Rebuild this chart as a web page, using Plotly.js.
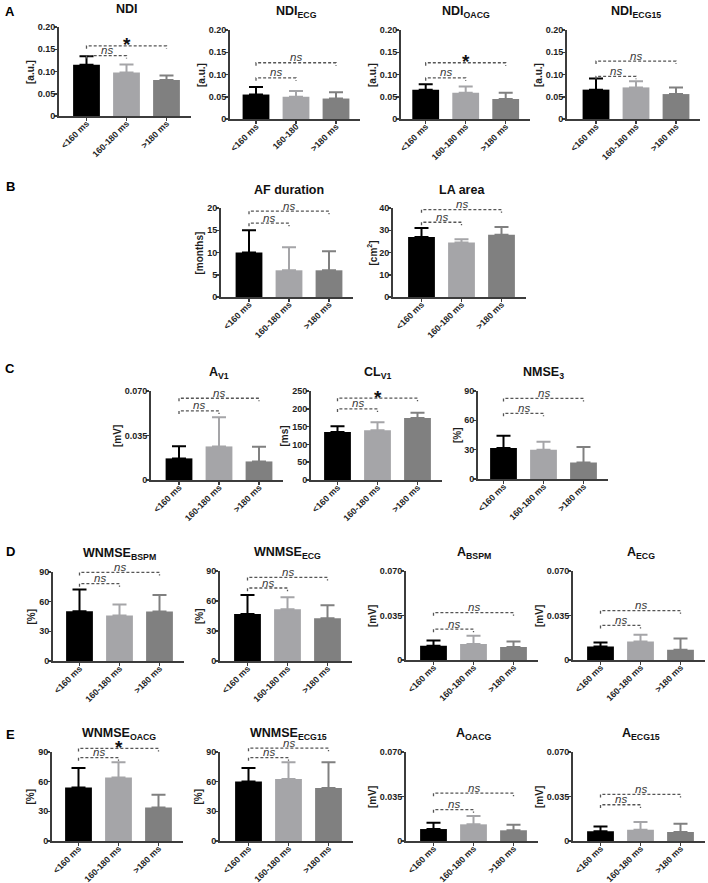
<!DOCTYPE html>
<html><head><meta charset="utf-8">
<script src="https://cdn.plot.ly/plotly-3.0.1.min.js"></script>
<style>html,body{margin:0;padding:0;background:#fff;} #chart{width:708px;height:883px;}</style>
</head><body><div id="chart"></div>
<script>
// ---------- DATA ----------
const groups = ['&lt;160 ms', '160-180 ms', '&gt;180 ms'];
const groupsEcg = ['&lt;160 ms', '160-180', '&gt;180 ms'];

const ticksNdi = [0, 0.05, 0.10, 0.15, 0.20];
const tickTextNdi = ['0', '0.05', '0.10', '0.15', '0.20'];
const ticksAf = [0, 5, 10, 15, 20];
const tickTextAf = ['0', '5', '10', '15', '20'];
const ticksLa = [0, 10, 20, 30, 40];
const tickTextLa = ['0', '10', '20', '30', '40'];
const ticksAmp = [0, 0.035, 0.070];
const tickTextAmp = ['0', '0.035', '0.070'];
const ticksCl = [0, 50, 100, 150, 200, 250];
const tickTextCl = ['0', '50', '100', '150', '200', '250'];
const ticksPct = [0, 30, 60, 90];
const tickTextPct = ['0', '30', '60', '90'];

const ndiMean = [0.115, 0.098, 0.081];        const ndiErr = [0.019, 0.018, 0.010];
const ndiEcgMean = [0.055, 0.050, 0.046];     const ndiEcgErr = [0.017, 0.013, 0.014];
const ndiOacgMean = [0.066, 0.059, 0.045];    const ndiOacgErr = [0.012, 0.014, 0.014];
const ndiEcg15Mean = [0.066, 0.071, 0.056];   const ndiEcg15Err = [0.025, 0.014, 0.015];
const afMean = [10, 6, 6];                    const afErr = [5, 5.2, 4.3];
const laMean = [27, 24.5, 28];                const laErr = [4, 1.5, 3.5];
const av1Mean = [0.017, 0.0264, 0.0146];      const av1Err = [0.0096, 0.023, 0.0115];
const clv1Mean = [135, 140, 174];             const clv1Err = [16, 22, 15];
const nmseMean = [31.6, 29.9, 17];            const nmseErr = [12.6, 8.1, 15.6];
const wBspmMean = [50.4, 46, 50];             const wBspmErr = [21.8, 11.1, 16.8];
const wEcgMean = [47, 51.7, 42.7];            const wEcgErr = [19, 12, 13];
const aBspmMean = [0.0112, 0.0125, 0.0102];   const aBspmErr = [0.0042, 0.0066, 0.0044];
const aEcgMean = [0.0107, 0.0146, 0.0081];    const aEcgErr = [0.0031, 0.0053, 0.0089];
const wOacgMean = [54, 64.1, 33.9];           const wOacgErr = [19.9, 15.5, 12.8];
const wEcg15Mean = [60.1, 62.8, 53.7];        const wEcg15Err = [13.8, 16.8, 25.9];
const aOacgMean = [0.0094, 0.0131, 0.0084];   const aOacgErr = [0.0050, 0.0065, 0.0044];
const aEcg15Mean = [0.0076, 0.0089, 0.0071];  const aEcg15Err = [0.0039, 0.0060, 0.0065];

// significance brackets: [inner (<160 vs 160-180), outer (<160 vs >180)]
const ndiBr = [0.151, 0.175];      const ndiSig = ['ns', '*'];
const ndiEcgBr = [0.100, 0.137];   const ndiEcgSig = ['ns', 'ns'];
const ndiOacgBr = [0.100, 0.137];  const ndiOacgSig = ['ns', '*'];
const ndiEcg15Br = [0.104, 0.141]; const ndiEcg15Sig = ['ns', 'ns'];
const afBr = [16.6, 19.3];         const afSig = ['ns', 'ns'];
const laBr = [33.6, 39.3];         const laSig = ['ns', 'ns'];
const av1Br = [0.0543, 0.0643];    const av1Sig = ['ns', 'ns'];
const clv1Br = [200, 230];         const clv1Sig = ['ns', '*'];
const nmseBr = [67.2, 82.5];       const nmseSig = ['ns', 'ns'];
const wBspmBr = [78.2, 89.7];      const wBspmSig = ['ns', 'ns'];
const wEcgBr = [73, 83.7];         const wEcgSig = ['ns', 'ns'];
const aBspmBr = [0.0243, 0.0373];  const aBspmSig = ['ns', 'ns'];
const aEcgBr = [0.0272, 0.0389];   const aEcgSig = ['ns', 'ns'];
const wOacgBr = [84.3, 93.7];      const wOacgSig = ['ns', '*'];
const wEcg15Br = [84.3, 94];       const wEcg15Sig = ['ns', 'ns'];
const aOacgBr = [0.0246, 0.0376];  const aOacgSig = ['ns', 'ns'];
const aEcg15Br = [0.0285, 0.0366]; const aEcg15Sig = ['ns', 'ns'];

const panelTitles = ['NDI', 'NDI<sub>ECG</sub>', 'NDI<sub>OACG</sub>', 'NDI<sub>ECG15</sub>',
  'AF duration', 'LA area', 'A<sub>V1</sub>', 'CL<sub>V1</sub>', 'NMSE<sub>3</sub>',
  'WNMSE<sub>BSPM</sub>', 'WNMSE<sub>ECG</sub>', 'A<sub>BSPM</sub>', 'A<sub>ECG</sub>',
  'WNMSE<sub>OACG</sub>', 'WNMSE<sub>ECG15</sub>', 'A<sub>OACG</sub>', 'A<sub>ECG15</sub>'];
const units = ['[a.u.]', '[a.u.]', '[a.u.]', '[a.u.]', '[months]', '[cm<sup>2</sup>]', '[mV]', '[ms]', '[%]',
  '[%]', '[%]', '[mV]', '[mV]', '[%]', '[%]', '[mV]', '[mV]'];
const panelLetters = ['A', 'B', 'C', 'D', 'E'];

// ---------- PANEL TABLE (built from the arrays above) ----------
const panels = [
  {mean: ndiMean, err: ndiErr, br: ndiBr, sig: ndiSig, cats: groups, ticks: ticksNdi, tt: tickTextNdi},
  {mean: ndiEcgMean, err: ndiEcgErr, br: ndiEcgBr, sig: ndiEcgSig, cats: groupsEcg, ticks: ticksNdi, tt: tickTextNdi},
  {mean: ndiOacgMean, err: ndiOacgErr, br: ndiOacgBr, sig: ndiOacgSig, cats: groups, ticks: ticksNdi, tt: tickTextNdi},
  {mean: ndiEcg15Mean, err: ndiEcg15Err, br: ndiEcg15Br, sig: ndiEcg15Sig, cats: groups, ticks: ticksNdi, tt: tickTextNdi},
  {mean: afMean, err: afErr, br: afBr, sig: afSig, cats: groups, ticks: ticksAf, tt: tickTextAf},
  {mean: laMean, err: laErr, br: laBr, sig: laSig, cats: groups, ticks: ticksLa, tt: tickTextLa},
  {mean: av1Mean, err: av1Err, br: av1Br, sig: av1Sig, cats: groups, ticks: ticksAmp, tt: tickTextAmp},
  {mean: clv1Mean, err: clv1Err, br: clv1Br, sig: clv1Sig, cats: groups, ticks: ticksCl, tt: tickTextCl},
  {mean: nmseMean, err: nmseErr, br: nmseBr, sig: nmseSig, cats: groups, ticks: ticksPct, tt: tickTextPct},
  {mean: wBspmMean, err: wBspmErr, br: wBspmBr, sig: wBspmSig, cats: groups, ticks: ticksPct, tt: tickTextPct},
  {mean: wEcgMean, err: wEcgErr, br: wEcgBr, sig: wEcgSig, cats: groups, ticks: ticksPct, tt: tickTextPct},
  {mean: aBspmMean, err: aBspmErr, br: aBspmBr, sig: aBspmSig, cats: groups, ticks: ticksAmp, tt: tickTextAmp},
  {mean: aEcgMean, err: aEcgErr, br: aEcgBr, sig: aEcgSig, cats: groups, ticks: ticksAmp, tt: tickTextAmp},
  {mean: wOacgMean, err: wOacgErr, br: wOacgBr, sig: wOacgSig, cats: groups, ticks: ticksPct, tt: tickTextPct},
  {mean: wEcg15Mean, err: wEcg15Err, br: wEcg15Br, sig: wEcg15Sig, cats: groups, ticks: ticksPct, tt: tickTextPct},
  {mean: aOacgMean, err: aOacgErr, br: aOacgBr, sig: aOacgSig, cats: groups, ticks: ticksAmp, tt: tickTextAmp},
  {mean: aEcg15Mean, err: aEcg15Err, br: aEcg15Br, sig: aEcg15Sig, cats: groups, ticks: ticksAmp, tt: tickTextAmp}
];

// ---------- LAYOUT GEOMETRY (pixels): [y-axis x, first bar centre x, y=0 px, y=max px] ----------
const W = 708, H = 883;
const geom = [
  [59, 86.5, 116, 27], [230, 256, 119, 30], [401, 425.7, 119, 30], [567, 596, 119, 30],
  [221, 249, 297, 208], [393, 421.5, 297, 208],
  [151, 179, 480, 391], [311, 337.5, 480, 391], [478, 503.5, 479, 391],
  [53, 79.5, 661, 572], [220, 247.5, 661, 571], [406, 433.5, 660, 571], [573, 600.5, 660, 571],
  [52, 78.5, 841, 752], [220, 248.5, 841, 752], [406, 433.5, 841, 752], [573, 600.5, 841, 752]
];
const letterPos = [[10, 11], [10, 186], [10, 368], [10, 551], [10, 734]];
const catPx = 40;       // px per category
const xEnd = 2.6;
const extPx = 40;       // extra headroom for brackets above the y axis top
const barColors = ['#000000', '#a5a5a8', '#808080'];
const axisColor = '#3c3c3c';
const textColor = '#1e1e1e';
const FONT = 'Liberation Sans, Arial, sans-serif';
const N = panels.length;

function textWidth(s, size) {
  let w = 0;
  for (const ch of s) w += (ch === '.' ? 0.278 : 0.556);
  return w * size;
}

const data = [];
const layout = {
  width: W, height: H,
  margin: {l: 0, r: 0, t: 0, b: 0},
  paper_bgcolor: '#ffffff', plot_bgcolor: 'rgba(0,0,0,0)',
  showlegend: false, barmode: 'overlay',
  font: {family: FONT, color: textColor},
  shapes: [], annotations: []
};

panels.forEach((p, i) => {
  const k = i + 1;
  const xa = 'x' + k, ya = 'y' + k, yb = 'y' + (N + k);
  const [axPx, c1Px, y0Px, topPx] = geom[i];
  const xStart = -(c1Px - axPx) / catPx;
  const rightPx = axPx + (xEnd - xStart) * catPx;
  const ymax = p.ticks[p.ticks.length - 1];
  const hPx = y0Px - topPx;

  layout['xaxis' + k] = {
    domain: [axPx / W, rightPx / W], range: [xStart, xEnd], anchor: ya,
    tickmode: 'array', tickvals: [0, 1, 2], ticktext: p.cats, tickangle: -45,
    ticks: 'outside', ticklen: 3, tickwidth: 1.5, tickcolor: axisColor,
    ticklabelstandoff: -6,
    showline: true, linecolor: axisColor, linewidth: 2,
    showgrid: false, zeroline: false, fixedrange: true,
    tickfont: {family: FONT, size: 8.8, color: textColor, weight: 'bold'}
  };
  layout['yaxis' + k] = {
    domain: [1 - y0Px / H, 1 - topPx / H], range: [0, ymax], anchor: xa,
    tickmode: 'array', tickvals: p.ticks, ticktext: p.tt,
    ticks: 'outside', ticklen: 3, tickwidth: 1.5, tickcolor: axisColor,
    ticklabelstandoff: -3,
    showline: true, linecolor: axisColor, linewidth: 2,
    showgrid: false, zeroline: false, fixedrange: true,
    tickfont: {family: FONT, size: 9, color: textColor, weight: 'bold'}
  };
  // invisible axis with the same scale but extra headroom, for the significance brackets
  layout['yaxis' + (N + k)] = {
    domain: [1 - y0Px / H, 1 - (topPx - extPx) / H],
    range: [0, ymax * (hPx + extPx) / hPx],
    anchor: 'free', position: 0, visible: false, fixedrange: true
  };

  for (let j = 0; j < 3; j++) {
    data.push({
      type: 'bar', x: [j], y: [p.mean[j]], width: [0.67],
      xaxis: xa, yaxis: ya, hoverinfo: 'skip',
      marker: {color: barColors[j], line: {width: 0}},
      error_y: {type: 'data', symmetric: false, array: [p.err[j]], arrayminus: [0],
                color: barColors[j], thickness: 2, width: 7}
    });
  }

  // brackets
  const drop = 0.035 * ymax;
  p.br.forEach((lvl, b) => {
    const x2 = b === 0 ? 1 : 2;
    layout.shapes.push({
      type: 'path', xref: xa, yref: yb, layer: 'above',
      path: `M0,${lvl - drop} L0,${lvl} L${x2},${lvl} L${x2},${lvl - drop}`,
      line: {color: '#555555', width: 1.3, dash: '3px,2px'}
    });
    const star = p.sig[b] === '*';
    layout.annotations.push({
      xref: xa, yref: yb, x: x2 / 2, y: lvl, showarrow: false,
      yanchor: 'middle', xanchor: 'center', yshift: star ? 1 : 5.5,
      text: star ? '<b>*</b>' : '<i>ns</i>',
      font: star ? {family: FONT, size: 19, color: '#111'} : {family: FONT, size: 11.5, color: '#383838'}
    });
  });

  // panel title
  layout.annotations.push({
    xref: xa, yref: 'paper', x: 1, y: 1 - (topPx - 18) / H, showarrow: false,
    xanchor: 'center', yanchor: 'middle',
    text: '<b>' + panelTitles[i] + '</b>',
    font: {family: FONT, size: 12.5, color: '#111'}
  });

  // y axis title
  const maxW = Math.max(...p.tt.map(t => textWidth(t, 9)));
  layout.annotations.push({
    xref: 'paper', yref: 'paper', x: (axPx - maxW - 11) / W, y: 1 - (y0Px + topPx) / 2 / H,
    showarrow: false, xanchor: 'center', yanchor: 'middle', textangle: -90,
    text: '<b>' + units[i] + '</b>',
    font: {family: FONT, size: 10, color: textColor}
  });
});

panelLetters.forEach((L, i) => {
  layout.annotations.push({
    xref: 'paper', yref: 'paper', x: letterPos[i][0] / W, y: 1 - letterPos[i][1] / H,
    showarrow: false, xanchor: 'center', yanchor: 'middle',
    text: '<b>' + L + '</b>', font: {family: FONT, size: 13, color: '#000'}
  });
});

Plotly.newPlot('chart', data, layout, {staticPlot: true, displayModeBar: false});
</script>
</body></html>
